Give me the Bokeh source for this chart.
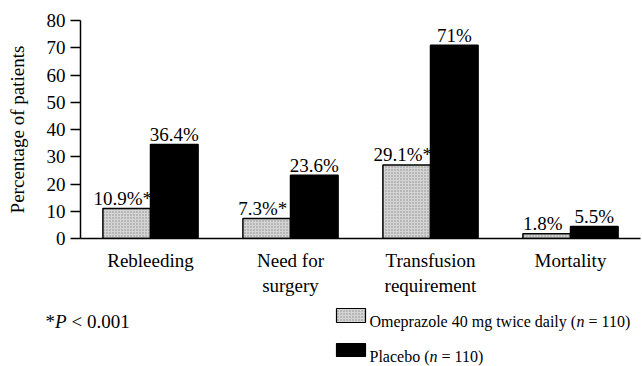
from bokeh.plotting import figure
from bokeh.models import (FactorRange, ColumnDataSource, FixedTicker, Range1d)
from bokeh.transform import dodge
from bokeh.core.properties import value
from bokeh.embed import file_html
from bokeh.resources import INLINE

# ---- data ----
categories = ["Rebleeding", "Need for\nsurgery", "Transfusion\nrequirement", "Mortality"]
omeprazole = [11.0, 7.3, 27.0, 1.7]          # bar heights as drawn
placebo = [34.5, 23.2, 70.9, 4.4]
omeprazole_labels = ["10.9%*", "7.3%*", "29.1%*", "1.8%"]
placebo_labels = ["36.4%", "23.6%", "71%", "5.5%"]
y_ticks = [0, 10, 20, 30, 40, 50, 60, 70, 80]
series_names = ["Omeprazole 40 mg twice daily (", "Placebo ("]
series_n = ["= 110)", "= 110)"]
footnote = ["*", "P", "< 0.001"]

FONT = "Liberation Serif"
OM_FILL = "#d4d4d4"

src = ColumnDataSource(dict(cat=categories, om=omeprazole, pl=placebo,
                            oml=omeprazole_labels, pll=placebo_labels))

p = figure(x_range=FactorRange(*categories, range_padding=0), y_range=(0, 80),
           width=642, height=300, output_backend="svg", toolbar_location=None,
           min_border_left=80, min_border_right=2, min_border_top=20, min_border_bottom=62)
p.outline_line_color = None
p.grid.visible = False

BW = 0.34
p.vbar(x=dodge("cat", -BW / 2, range=p.x_range), top="om", width=BW, source=src,
       fill_color=OM_FILL, line_color="black", line_width=1.5,
       hatch_pattern="dot", hatch_color="#8c8c8c", hatch_scale=3, hatch_weight=0.6)
p.vbar(x=dodge("cat", BW / 2, range=p.x_range), top="pl", width=BW, source=src,
       fill_color="black", line_color="black", line_width=1.5)

p.text(x=dodge("cat", -BW / 2, range=p.x_range), y="om", text="oml", source=src,
       text_align="center", text_baseline="alphabetic", y_offset=-10, x_offset=-4,
       text_font=value(FONT), text_font_size="19px", text_color="black")
p.text(x=dodge("cat", BW / 2, range=p.x_range), y="pl", text="pll", source=src,
       text_align="center", text_baseline="alphabetic", y_offset=-10,
       text_font=value(FONT), text_font_size="19px", text_color="black")

# axes
ya = p.yaxis[0]
ya.ticker = FixedTicker(ticks=y_ticks)
ya.minor_tick_line_color = None
ya.major_tick_in = 0
ya.major_tick_out = 10
ya.major_tick_line_width = 1.5
ya.axis_line_width = 1.5
ya.major_label_standoff = 5
ya.major_label_text_font = FONT
ya.major_label_text_font_size = "19px"
ya.major_label_text_color = "black"
ya.axis_label = "Percentage of patients"
ya.axis_label_text_font = FONT
ya.axis_label_text_font_size = "19px"
ya.axis_label_text_font_style = "normal"
ya.axis_label_text_color = "black"
ya.axis_label_standoff = 16

xa = p.xaxis[0]
xa.major_tick_in = 0
xa.major_tick_out = 0
xa.minor_tick_line_color = None
xa.axis_line_width = 1.5
xa.major_label_standoff = 11
xa.major_label_text_font = FONT
xa.major_label_text_font_size = "19px"
xa.major_label_text_color = "black"

# ---- footnote and legend panel: ranges set to page pixel coordinates ----
q = figure(width=642, height=66, output_backend="svg", toolbar_location=None,
           x_range=Range1d(0, 642), y_range=Range1d(371, 305),
           min_border=0, min_border_left=0, min_border_right=0,
           min_border_top=0, min_border_bottom=0)
q.axis.visible = False
q.grid.visible = False
q.outline_line_color = None

common = dict(text_font=value(FONT), text_baseline="alphabetic", text_color="black")
q.text(x=[45, 71], y=[326, 326], text=[footnote[0], footnote[2]],
       text_font_size="19px", **common)
q.text(x=[54.5], y=[326], text=[footnote[1]], text_font_size="19px",
       text_font_style="italic", **common)

q.quad(left=[336], right=[365], top=[313], bottom=[327], fill_color=OM_FILL,
       line_color="black", line_width=1.2,
       hatch_pattern="dot", hatch_color="#8c8c8c", hatch_scale=3, hatch_weight=0.6)
q.quad(left=[336], right=[365], top=[348], bottom=[361], fill_color="black",
       line_color="black", line_width=1.2)

LS = "16px"
q.text(x=[369, 369], y=[326, 361], text=series_names, text_font_size=LS, **common)
q.text(x=[576, 429], y=[326, 361], text=["n", "n"], text_font_size=LS,
       text_font_style="italic", **common)
q.text(x=[588, 441], y=[326, 361], text=series_n, text_font_size=LS, **common)

open("out.html", "w").write(file_html([p, q], INLINE))
